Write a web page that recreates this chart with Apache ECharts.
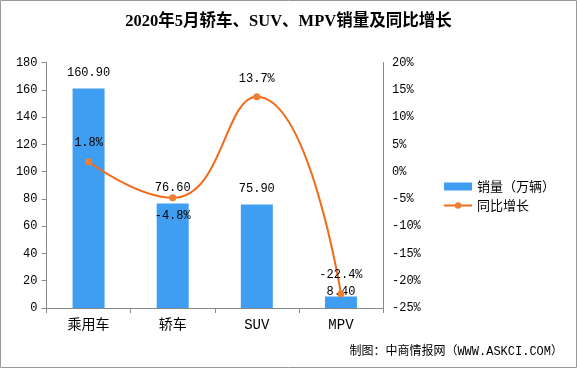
<!DOCTYPE html>
<html><head><meta charset="utf-8">
<script src="https://cdn.jsdelivr.net/npm/echarts@6/dist/echarts.min.js"></script>
<style>html,body{margin:0;padding:0;background:#fff}#c{width:577px;height:368px}</style>
</head><body><div id="c"></div>
<script>
const categories = ['乘用车', '轿车', 'SUV', 'MPV'];
const salesValues = [160.9, 76.6, 75.9, 8.4];
const growthValues = [1.8, -4.8, 13.7, -22.4];
const leftTicks = {min: 0, max: 180, interval: 20};
const rightTicks = {min: -25, max: 20, interval: 5};

const mono = '"Liberation Mono", "Noto Sans CJK SC", monospace';
const cjk = '"Noto Sans CJK SC", sans-serif';
const chart = echarts.init(document.getElementById('c'));
chart.setOption({
  animation: false,
  backgroundColor: '#fff',
  title: {
    text: '2020年5月轿车、SUV、MPV销量及同比增长',
    left: 'center', top: 8,
    textStyle: {fontSize: 16.5, fontWeight: 'bold', color: '#000', fontFamily: '"Liberation Serif", "Noto Sans CJK SC", serif'}
  },
  graphic: [
    {type: 'rect', shape: {x: 0.5, y: 0.5, width: 576, height: 367}, style: {fill: 'none', stroke: '#999', lineWidth: 1}, silent: true},
    {type: 'text', right: 14, top: 346, style: {text: '制图：中商情报网（WWW.ASKCI.COM）', fill: '#000', font: '12px ' + mono}}
  ],
  legend: {
    orient: 'vertical', left: 438, top: 175, itemGap: 6, itemWidth: 28, itemHeight: 8,
    textStyle: {fontSize: 13, color: '#000', fontFamily: cjk},
    data: [{name: '销量（万辆）', icon: 'rect'}, {name: '同比增长'}]
  },
  grid: {left: 46.5, right: 194, top: 62.5, bottom: 60},
  xAxis: {
    type: 'category', data: categories,
    axisLine: {lineStyle: {color: '#888'}},
    axisTick: {show: true, length: 5, lineStyle: {color: '#888'}},
    axisLabel: {color: '#000', fontSize: 14, margin: 10, fontFamily: mono}
  },
  yAxis: [
    {
      type: 'value', min: leftTicks.min, max: leftTicks.max, interval: leftTicks.interval,
      axisLine: {show: true, lineStyle: {color: '#888'}},
      axisTick: {show: true, length: 5, lineStyle: {color: '#888'}},
      splitLine: {show: false},
      axisLabel: {color: '#000', fontSize: 12, margin: 9, fontFamily: mono}
    },
    {
      type: 'value', min: rightTicks.min, max: rightTicks.max, interval: rightTicks.interval,
      position: 'right',
      axisLine: {show: true, lineStyle: {color: '#888'}},
      axisTick: {show: false},
      splitLine: {show: false},
      axisLabel: {color: '#000', fontSize: 12, margin: 9, fontFamily: mono, formatter: '{value}%'}
    }
  ],
  series: [
    {
      name: '销量（万辆）', type: 'bar', data: salesValues.map((v, i) => ({value: v, label: {distance: i === 3 ? -1 : 10}})),
      barWidth: 32,
      itemStyle: {color: '#409EF2'},
      label: {show: true, position: 'top', color: '#000', fontSize: 12, fontFamily: mono,
        formatter: p => p.value.toFixed(2)}
    },
    {
      name: '同比增长', type: 'line', yAxisIndex: 1, smooth: true,
      data: growthValues.map((v, i) => ({value: v, label: {position: i === 1 ? 'bottom' : 'top'}})),
      symbol: 'circle', symbolSize: 7,
      lineStyle: {color: '#F26A1B', width: 2},
      itemStyle: {color: '#F08030'},
      label: {show: true, color: '#000', fontSize: 12, fontFamily: mono, distance: 9,
        formatter: p => p.value.toFixed(1) + '%'}
    }
  ]
});
</script></body></html>
